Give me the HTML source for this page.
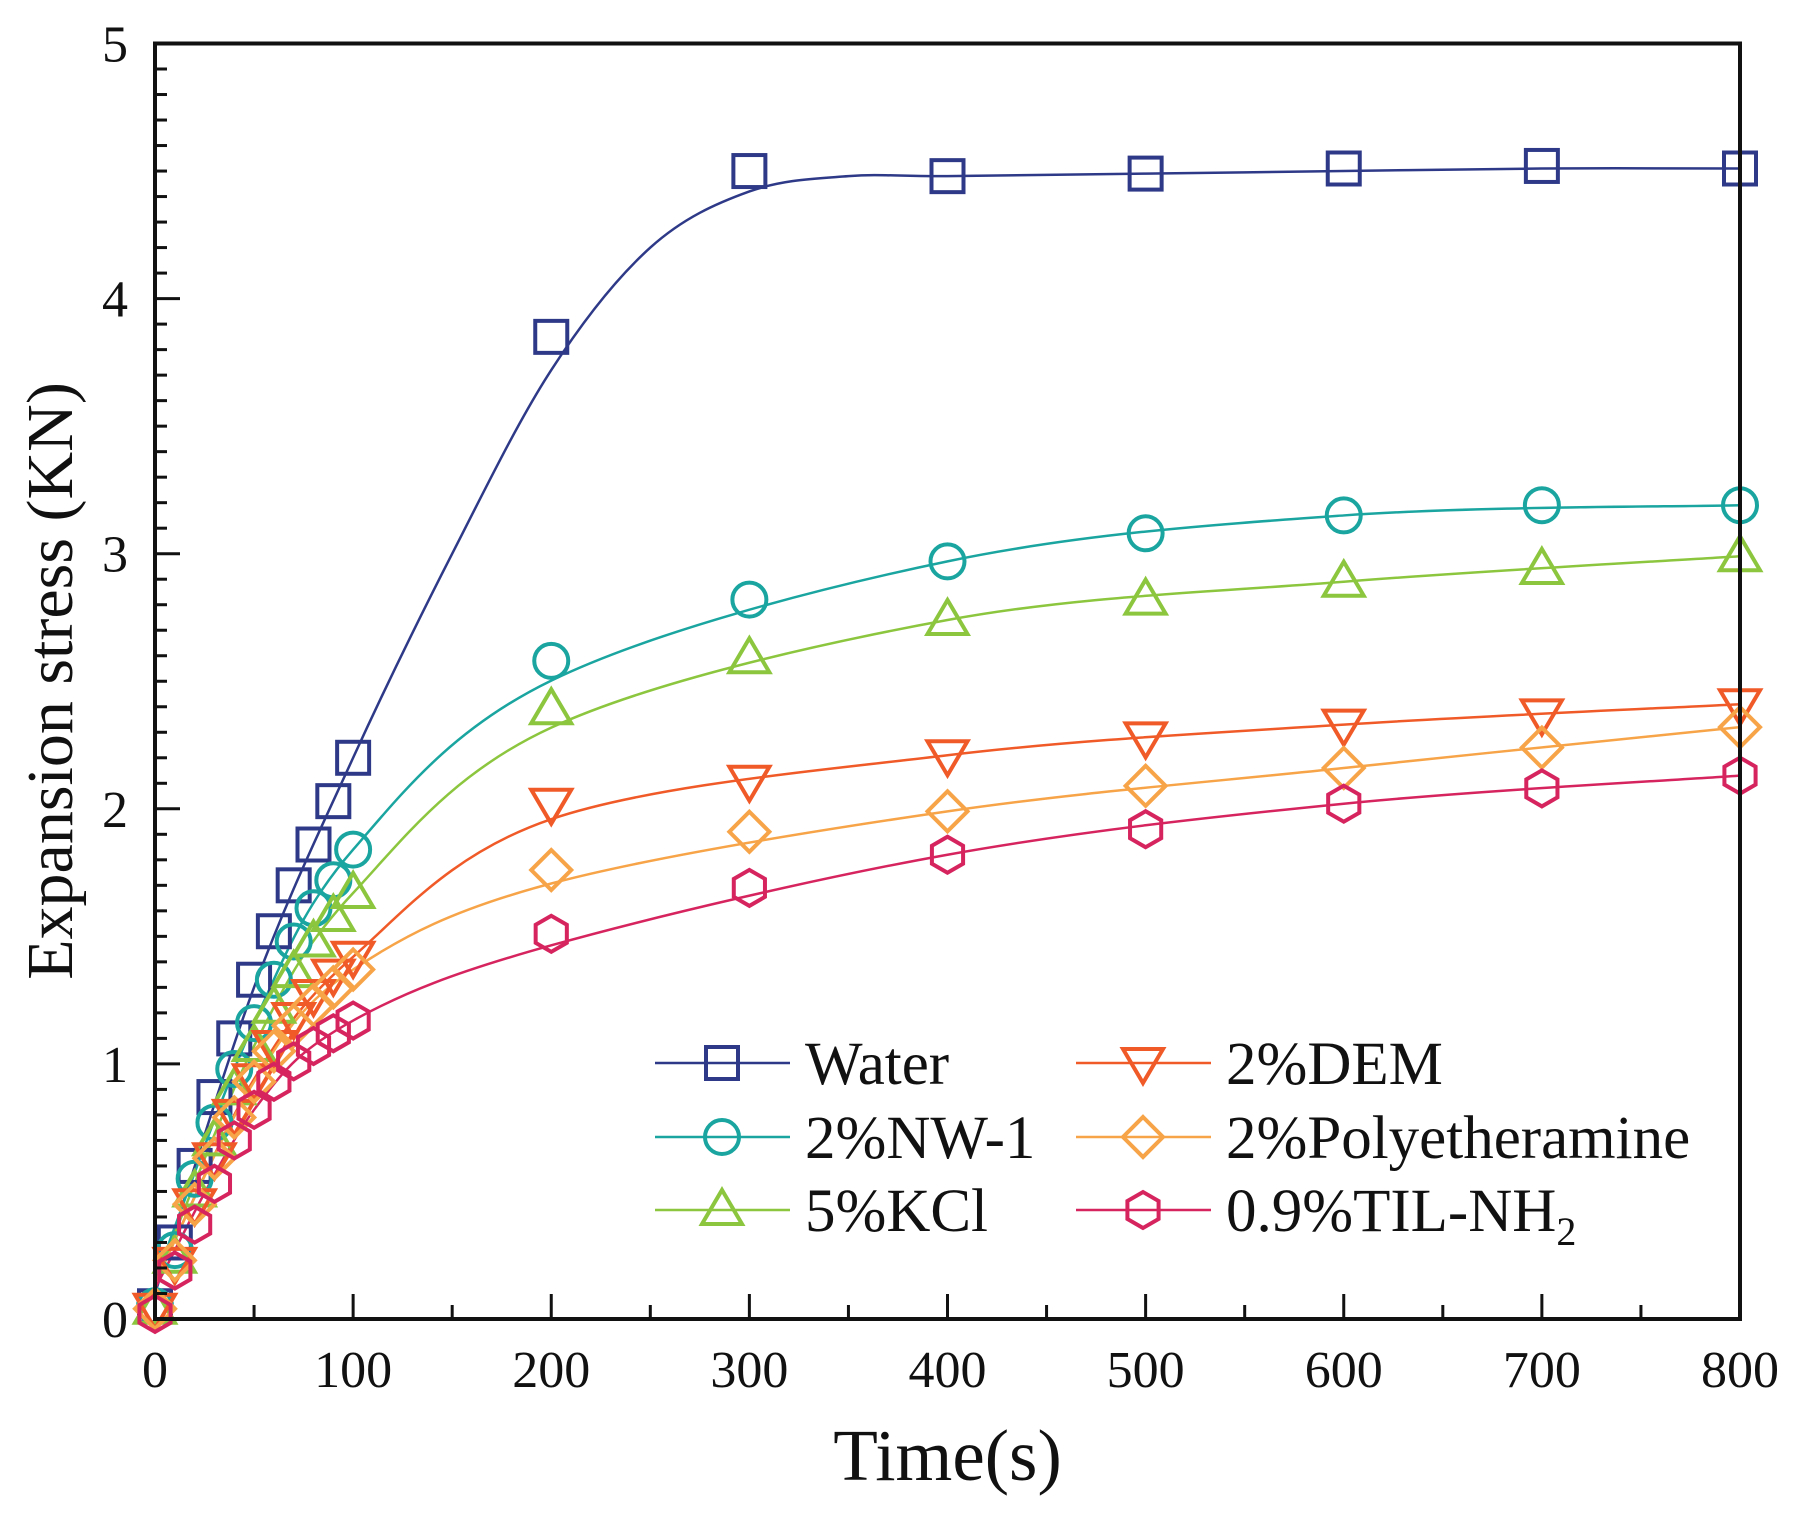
<!DOCTYPE html>
<html><head><meta charset="utf-8"><style>
html,body{margin:0;padding:0;background:#fff}
svg text{font-family:"Liberation Serif",serif;fill:#111}
</style></head><body>
<svg id="s" width="1795" height="1512" viewBox="0 0 1795 1512" xmlns="http://www.w3.org/2000/svg"></svg>
<script>
const L=155,R=1740,T=43.5,B=1319;
const X=v=>L+(R-L)*v/800, Y=v=>B-(B-T)*v/5;
let h='';
const xs=[0,10,20,30,40,50,60,70,80,90,100,200,300,400,500,600,700,800];
const S=[
{c:'#2e3a87',m:'sq',d:[0.05,0.3,0.6,0.87,1.1,1.33,1.52,1.7,1.86,2.03,2.2,3.85,4.5,4.48,4.49,4.51,4.52,4.51],
 f:[[0,0.1],[50,1.3],[100,2.2],[150,3.0],[200,3.72],[250,4.2],[300,4.42],[350,4.48],[400,4.48],[500,4.49],[600,4.5],[700,4.51],[800,4.51]]},
{c:'#1aa5a0',m:'ci',d:[0.05,0.27,0.55,0.77,0.98,1.16,1.33,1.48,1.61,1.72,1.84,2.58,2.82,2.97,3.08,3.15,3.19,3.19]},
{c:'#8cc63f',m:'tu',d:[0.04,0.24,0.5,0.7,0.9,1.07,1.22,1.36,1.48,1.58,1.67,2.39,2.59,2.74,2.82,2.89,2.94,2.99]},
{c:'#f05a28',m:'td',d:[0.04,0.22,0.45,0.63,0.8,0.94,1.07,1.18,1.27,1.35,1.42,2.02,2.11,2.21,2.28,2.33,2.37,2.41]},
{c:'#f7a448',m:'di',d:[0.04,0.23,0.45,0.63,0.79,0.93,1.05,1.15,1.23,1.3,1.37,1.76,1.91,1.99,2.09,2.16,2.24,2.32]},
{c:'#d6245f',m:'hx',d:[0.02,0.19,0.37,0.53,0.7,0.82,0.93,1.01,1.07,1.12,1.17,1.51,1.69,1.82,1.92,2.02,2.08,2.13]}
];
function spline(pts){
 let d=`M${pts[0][0]},${pts[0][1]}`;
 for(let i=0;i<pts.length-1;i++){
  const p0=pts[Math.max(0,i-1)],p1=pts[i],p2=pts[i+1],p3=pts[Math.min(pts.length-1,i+2)];
  d+=` C${p1[0]+(p2[0]-p0[0])/6},${p1[1]+(p2[1]-p0[1])/6} ${p2[0]-(p3[0]-p1[0])/6},${p2[1]-(p3[1]-p1[1])/6} ${p2[0]},${p2[1]}`;
 }return d;}
function marker(m,x,y,c){
 const a=`fill="none" stroke="${c}" stroke-width="4"`;
 if(m=='sq')return `<rect x="${x-16}" y="${y-16}" width="32" height="32" ${a}/>`;
 if(m=='ci')return `<circle cx="${x}" cy="${y}" r="17" ${a}/>`;
 if(m=='tu')return `<polygon points="${x},${y-20} ${x+20},${y+14} ${x-20},${y+14}" ${a}/>`;
 if(m=='td')return `<polygon points="${x},${y+20} ${x+20},${y-14} ${x-20},${y-14}" ${a}/>`;
 if(m=='di')return `<polygon points="${x},${y-20} ${x+20},${y} ${x},${y+20} ${x-20},${y}" ${a}/>`;
 let p=[];for(let k=0;k<6;k++){const t=Math.PI/2+k*Math.PI/3;p.push((x+18*Math.cos(t))+','+(y+18*Math.sin(t)));}
 return `<polygon points="${p.join(' ')}" ${a}/>`;}
for(const s of S){
 const f=s.f||[[0,s.d[0]+0.1],[50,s.d[5]],[100,s.d[10]],[200,s.d[11]*0.97],[400,s.d[13]],[600,s.d[15]],[800,s.d[17]]];
 h+=`<path d="${spline(f.map(p=>[X(p[0]),Y(p[1])]))}" fill="none" stroke="${s.c}" stroke-width="2.5"/>`;
}
for(const s of S){xs.forEach((x,i)=>{h+=marker(s.m,X(x),Y(s.d[i]),s.c);});}
h+=`<rect x="${L}" y="${T}" width="${R-L}" height="${B-T}" fill="none" stroke="#111" stroke-width="4"/>`;
for(let v=0;v<=800;v+=50){const x=X(v),l=v%100?14:25;h+=`<line x1="${x}" y1="${B}" x2="${x}" y2="${B-l}" stroke="#111" stroke-width="3"/>`;
 if(v%100==0)h+=`<text x="${x}" y="${B+68}" font-size="52" text-anchor="middle">${v}</text>`;}
for(let i=0;i<=50;i++){const y=Y(i/10),l=i%10?12:25;h+=`<line x1="${L}" y1="${y}" x2="${L+l}" y2="${y}" stroke="#111" stroke-width="3"/>`;
 if(i%10==0)h+=`<text x="128" y="${y+18}" font-size="52" text-anchor="end">${i/10}</text>`;}
h+=`<text x="${(L+R)/2}" y="1480" font-size="73" text-anchor="middle">Time(s)</text>`;
h+=`<text transform="translate(72,681) rotate(-90)" font-size="66" text-anchor="middle">Expansion stress (KN)</text>`;
const lg=[[655,1063,0,'Water'],[655,1137,1,'2%NW-1'],[655,1210,2,'5%KCl'],[1076,1063,3,'2%DEM'],[1076,1137,4,'2%Polyetheramine'],[1076,1210,5,'0.9%TIL-NH<tspan font-size="40" dy="14">2</tspan>']];
for(const [x,y,i,t] of lg){const s=S[i];
 h+=`<line x1="${x}" y1="${y}" x2="${x+135}" y2="${y}" stroke="${s.c}" stroke-width="2.5"/>`+marker(s.m,x+67,y,s.c);
 h+=`<text x="${x+150}" y="${y+21}" font-size="61">${t}</text>`;}
document.getElementById('s').innerHTML=h;
</script>
</body></html>
